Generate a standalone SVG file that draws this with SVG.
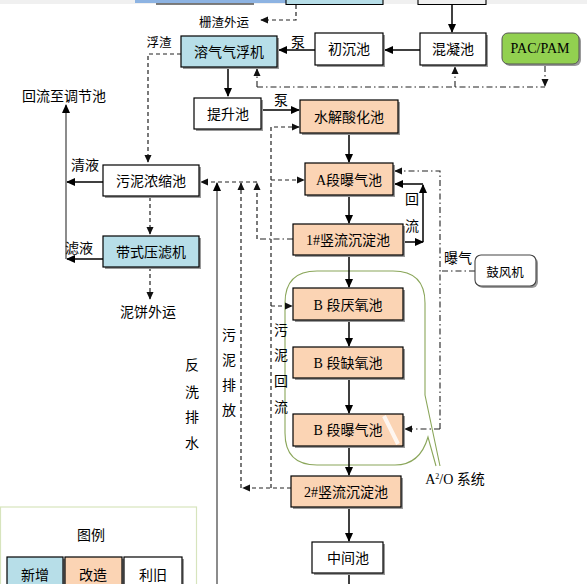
<svg xmlns="http://www.w3.org/2000/svg" width="587" height="584" viewBox="0 0 587 584">
<defs>
<marker id="ah" viewBox="0 0 10 10" refX="9" refY="5" markerWidth="9" markerHeight="9" markerUnits="userSpaceOnUse" orient="auto"><path d="M0,0.5 L10,5 L0,9.5 z" fill="#000"/></marker>
<marker id="ahs" viewBox="0 0 10 10" refX="9" refY="5" markerWidth="8" markerHeight="8" markerUnits="userSpaceOnUse" orient="auto"><path d="M0,0.5 L10,5 L0,9.5 z" fill="#111"/></marker>
</defs>
<style>
.box{stroke:#000;stroke-width:1.2}
.sh{fill:#9a9a9a}
.new{fill:#B7DEE8}
.mod{fill:#FBD4B4}
.old{fill:#fff}
.t{font-family:"Noto Sans CJK SC",sans-serif;font-size:14px;fill:#000;text-anchor:middle}
.ts{font-family:"Noto Sans CJK SC",sans-serif;font-size:12.5px;fill:#000;text-anchor:middle}
.tl{font-family:"Liberation Serif","Noto Sans CJK SC",serif;font-size:14px;fill:#000;text-anchor:middle}
.solid{fill:none;stroke:#000;stroke-width:1.5}
.grey{fill:none;stroke:#666;stroke-width:1.5}
.dash{fill:none;stroke:#222;stroke-width:1.2;stroke-dasharray:4,3}
.dd{fill:none;stroke:#222;stroke-width:1.1;stroke-dasharray:6,3,1.5,3}
</style>
<rect x="0" y="0" width="587" height="4" fill="#f0f0f0"/>
<rect x="135" y="0" width="200" height="3" fill="#8DB3E2"/>
<line x1="156" y1="4" x2="254" y2="4" stroke="#000" stroke-width="1.2"/>
<rect x="286" y="0" width="97" height="4" fill="#B7DEE8"/>
<path d="M286,0 V4.5 H383 V0" fill="none" stroke="#000" stroke-width="1.1"/>
<path d="M418,0 V4.5 H486 V0" fill="none" stroke="#000" stroke-width="1.1"/>

<g id="a2o">
<path d="M317,271 H393 Q425,271 425,303 V395 L440,466" fill="none" stroke="#8AA65A" stroke-width="1.1"/>
<path d="M436,466 L428,437 Q420,465 395,465 H317 Q285,465 285,433 V303 Q285,271 317,271" fill="none" stroke="#8AA65A" stroke-width="1.1"/>
<text x="455" y="484" class="tl" font-size="13">A<tspan font-size="8" dy="-5">2</tspan><tspan dy="5">/O 系统</tspan></text>
</g>

<g id="connectors">
<path class="solid" d="M452,5 V32" marker-end="url(#ah)"/>
<path class="solid" d="M420,50 H385" marker-end="url(#ah)"/>
<path class="solid" d="M315,50 H279" marker-end="url(#ah)"/>
<path class="solid" d="M228,68 V96" marker-end="url(#ah)"/>
<path class="solid" d="M262,110 H299" marker-end="url(#ah)"/>
<path class="solid" d="M349,134 V162" marker-end="url(#ah)"/>
<path class="solid" d="M349,196 V223" marker-end="url(#ah)"/>
<path class="solid" d="M349,256 V287" marker-end="url(#ah)"/>
<path class="solid" d="M349,321 V346" marker-end="url(#ah)"/>
<path class="solid" d="M349,380 V413" marker-end="url(#ah)"/>
<path class="solid" d="M349,447 V475" marker-end="url(#ah)"/>
<path class="solid" d="M349,508 V541" marker-end="url(#ah)"/>
<path class="solid" d="M349,574 V584"/>
<path class="solid" d="M404,242 H423" marker-end="url(#ah)"/>
<path class="solid" d="M423,242 V185" marker-end="url(#ah)"/>
<path class="solid" d="M423,184 H395" marker-end="url(#ah)"/>
<path class="solid" d="M103,182 H67" marker-end="url(#ah)"/>
<path class="solid" d="M103,259 H67" marker-end="url(#ah)"/>
<path class="grey" d="M66,259 V105" marker-end="url(#ah)"/>
<path class="grey" d="M217,584 V183" marker-end="url(#ah)"/>
<path class="dash" d="M296,5 V20 H261" marker-end="url(#ahs)"/>
<path class="dash" d="M181,54 H148 V162" marker-end="url(#ahs)"/>
<path class="dash" d="M150,197 V234" marker-end="url(#ahs)"/>
<path class="dash" d="M150,267 V299" marker-end="url(#ahs)"/>
<path class="dash" d="M257,182 H201" marker-end="url(#ahs)"/>
<path class="dash" d="M241,488 V183" marker-end="url(#ahs)"/>
<path class="dash" d="M257,239 V183" marker-end="url(#ahs)"/>
<path class="dd" d="M293,239 H257"/>
<path class="dash" d="M291,488 H243" marker-end="url(#ahs)"/>
<path class="dash" d="M271,488 V127 H299" marker-end="url(#ahs)"/>
<path class="dash" d="M271,180 H304" marker-end="url(#ahs)"/>
<path class="dash" d="M271,306 H292" marker-end="url(#ahs)"/>
<path class="dd" d="M257,87 H545"/>
<path class="dd" d="M257,87 V69" marker-end="url(#ahs)"/>
<path class="dd" d="M455,87 V67" marker-end="url(#ahs)"/>
<path class="dd" d="M545,66 V86" marker-end="url(#ahs)"/>
<path class="dd" d="M475,271 H440"/>
<path class="dd" d="M440,429 V171 H395" marker-end="url(#ahs)"/>
<path class="dd" d="M440,429 H405" marker-end="url(#ahs)"/>
</g>

<g id="n-rongqi"><rect x="183" y="38" width="96" height="31" class="sh"/><rect x="181" y="36" width="96" height="31" class="box new"/><text x="229" y="57" class="t">溶气气浮机</text></g>
<g id="n-chuchen"><rect x="317" y="35" width="68" height="32" class="sh"/><rect x="315" y="33" width="68" height="32" class="box old"/><text x="349" y="54" class="t">初沉池</text></g>
<g id="n-hunning"><rect x="422" y="35" width="66" height="32" class="sh"/><rect x="420" y="33" width="66" height="32" class="box old"/><text x="453" y="54" class="t">混凝池</text></g>
<g id="n-pac"><rect x="504" y="35" width="77" height="31" rx="6" class="sh"/><rect x="502" y="33" width="77" height="31" rx="6" fill="#92D050" stroke="#555" stroke-width="1"/><text x="540" y="53" class="tl" font-size="12.5">PAC/PAM</text></g>
<g id="n-tisheng"><rect x="196" y="100" width="67" height="31" class="sh"/><rect x="194" y="98" width="67" height="31" class="box old"/><text x="228" y="119" class="t">提升池</text></g>
<g id="n-shuijie"><rect x="302" y="102" width="98" height="33" class="sh"/><rect x="300" y="100" width="98" height="33" class="box mod"/><text x="349" y="122" class="t">水解酸化池</text></g>
<g id="n-a"><rect x="307" y="165" width="88" height="32" class="sh"/><rect x="305" y="163" width="88" height="32" class="box mod"/><text x="349" y="185" class="tl">A段曝气池</text></g>
<g id="n-1"><rect x="295" y="226" width="110" height="31" class="sh"/><rect x="293" y="224" width="110" height="31" class="box mod"/><text x="348" y="245" class="tl">1#竖流沉淀池</text></g>
<g id="n-bya"><rect x="295" y="290" width="110" height="32" class="sh"/><rect x="293" y="288" width="110" height="32" class="box mod"/><text x="348" y="310" class="tl">B 段厌氧池</text></g>
<g id="n-bque"><rect x="295" y="349" width="110" height="31" class="sh"/><rect x="293" y="347" width="110" height="31" class="box mod"/><text x="348" y="368" class="tl">B 段缺氧池</text></g>
<g id="n-bpu"><rect x="295" y="416" width="110" height="32" class="sh"/><rect x="293" y="414" width="110" height="32" class="box mod"/><text x="348" y="435" class="tl">B 段曝气池</text><line x1="384" y1="416" x2="398" y2="444" stroke="#fff" stroke-width="4" opacity="0.8"/></g>
<g id="n-2"><rect x="293" y="478" width="110" height="31" class="sh"/><rect x="291" y="476" width="110" height="31" class="box mod"/><text x="346" y="497" class="tl">2#竖流沉淀池</text></g>
<g id="n-zj"><rect x="314" y="544" width="71" height="31" class="sh"/><rect x="312" y="542" width="71" height="31" class="box old"/><text x="348" y="563" class="t">中间池</text></g>
<g id="n-nongsuo"><rect x="105" y="167" width="96" height="31" class="sh"/><rect x="103" y="165" width="96" height="31" class="box old"/><text x="151" y="186" class="t">污泥浓缩池</text></g>
<g id="n-yalv"><rect x="105" y="238" width="96" height="31" class="sh"/><rect x="103" y="236" width="96" height="31" class="box new"/><text x="151" y="257" class="t">带式压滤机</text></g>
<g id="n-gufeng"><rect x="477" y="257" width="61" height="31" rx="6" class="sh"/><rect x="475" y="255" width="61" height="31" rx="6" fill="#fff" stroke="#444" stroke-width="1.1"/><text x="505" y="277" class="ts">鼓风机</text></g>

<g id="labels">
<text x="224" y="27" class="ts">栅渣外运</text>
<text x="159" y="47" class="ts">浮渣</text>
<text x="298" y="47" class="t" font-size="13">泵</text>
<text x="281" y="105" class="t" font-size="13">泵</text>
<text x="64" y="101" class="t">回流至调节池</text>
<text x="85" y="170" class="t" font-size="13">清液</text>
<text x="79" y="253" class="t" font-size="13">滤液</text>
<text x="148" y="317" class="t">泥饼外运</text>
<text x="412" y="204" class="t">回</text>
<text x="412" y="231" class="t">流</text>
<text x="458" y="263" class="t">曝气</text>
<text x="192" y="370" class="t">反</text><text x="192" y="397" class="t">洗</text><text x="192" y="422" class="t">排</text><text x="192" y="448" class="t">水</text>
<text x="229" y="340" class="t">污</text><text x="229" y="365" class="t">泥</text><text x="229" y="390" class="t">排</text><text x="229" y="415" class="t">放</text>
<text x="281" y="335" class="t">污</text><text x="281" y="360" class="t">泥</text><text x="281" y="386" class="t">回</text><text x="281" y="412" class="t">流</text>
</g>

<g id="legend">
<rect x="0.5" y="507" width="196" height="90" fill="#fff" stroke="#D7E4BD" stroke-width="1.2"/>
<text x="91" y="540" class="t" font-size="13">图例</text>
<rect x="9" y="559" width="56" height="40" class="sh"/><rect x="7" y="557" width="56" height="40" class="box new"/><text x="35" y="580" class="t">新增</text>
<rect x="67" y="559" width="57" height="40" class="sh"/><rect x="65" y="557" width="57" height="40" class="box mod"/><text x="93" y="580" class="t">改造</text>
<rect x="126" y="559" width="58" height="40" class="sh"/><rect x="124" y="557" width="58" height="40" class="box old"/><text x="153" y="580" class="t" font-size="13">利旧</text>
</g>
</svg>
